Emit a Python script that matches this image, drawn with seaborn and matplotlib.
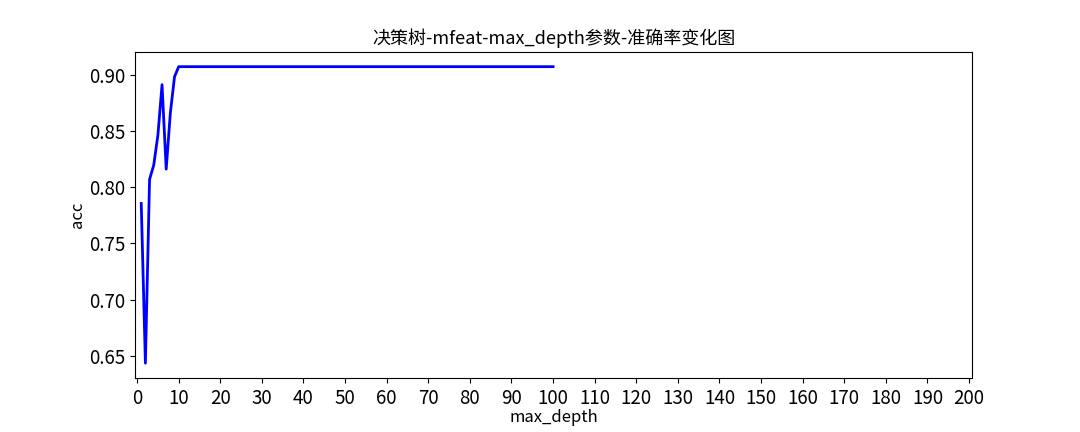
import matplotlib
matplotlib.use('Agg')
import matplotlib.pyplot as plt
import seaborn as sns
import numpy as np
import pandas as pd

plt.rcParams['font.family'] = ['Noto Sans CJK SC', 'DejaVu Sans']
plt.rcParams['axes.unicode_minus'] = False

# max_depth 1..100, accuracy
max_depth = list(range(1, 101))
acc_head = [0.7855, 0.6436, 0.8068, 0.8195, 0.846, 0.891, 0.816, 0.866, 0.898, 0.907]
acc_tail = [0.907] * 90
acc = acc_head + acc_tail
xticks = list(range(0, 201, 10))

df = pd.DataFrame({'max_depth': max_depth, 'acc': acc})

fig, ax = plt.subplots(figsize=(10.8, 4.32), dpi=100)
fig.subplots_adjust(left=0.125, right=0.9, top=0.88, bottom=0.125)

sns.lineplot(data=df, x='max_depth', y='acc', color='blue', linewidth=2, ax=ax)

ax.set_xticks(xticks)
ax.set_xlim(-0.5, 200.7)
ax.tick_params(axis='both', labelsize=13.5)
ax.set_xlabel('max_depth', fontsize=12, labelpad=0)
ax.set_ylabel('acc', fontsize=12, labelpad=2)
ax.set_title('决策树-mfeat-max_depth参数-准确率变化图', fontsize=13)

fig.savefig('out.png', dpi=100)
